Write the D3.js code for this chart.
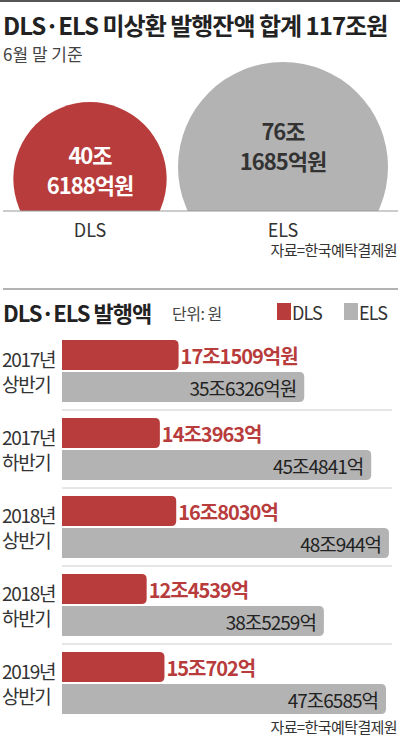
<!DOCTYPE html>
<html><head><meta charset="utf-8">
<script src="https://cdn.jsdelivr.net/npm/d3@7"></script>
<style>body{margin:0;background:#fff}svg{display:block;font-family:"Noto Sans CJK KR","Noto Sans",sans-serif}</style>
</head><body>
<script>
// 미상환 발행잔액 (조원)
var totalNames = ['DLS', 'ELS'];
var totalValues = [40.6188, 76.1685];
var totalLabels = [['40조', '6188억원'], ['76조', '1685억원']];

// 반기별 발행액 (조원)
var periods = [['2017년', '상반기'], ['2017년', '하반기'], ['2018년', '상반기'], ['2018년', '하반기'], ['2019년', '상반기']];
var dlsValues = [17.1509, 14.3963, 16.8030, 12.4539, 15.0702];
var elsValues = [35.6326, 45.4841, 48.0944, 38.5259, 47.6585];
var dlsLabels = ['17조1509억원', '14조3963억', '16조8030억', '12조4539억', '15조702억'];
var elsLabels = ['35조6326억원', '45조4841억', '48조944억', '38조5259억', '47조6585억'];

var RED = '#b83c3c', GRAY = '#b3b3b3', INK = '#222';
var width = 400, height = 738;

var svg = d3.select('body').append('svg')
    .attr('width', width).attr('height', height);

svg.append('rect').attr('x', 0).attr('y', 0).attr('width', width).attr('height', 2).attr('fill', '#555');

svg.append('text').attr('x', 3).attr('y', 35)
    .attr('font-size', 24).attr('font-weight', 'bold').attr('fill', INK)
    .attr('letter-spacing', -1)
    .text('DLS·ELS 미상환 발행잔액 합계 117조원');
svg.append('text').attr('x', 3).attr('y', 61)
    .attr('font-size', 17).attr('fill', '#444').text('6월 말 기준');

// circles, area proportional to value
var base = 211;
var r = d3.scaleSqrt().domain([0, 76.1685]).range([0, 105]);
var cx = [90, 283];
var clip = svg.append('clipPath').attr('id', 'above');
clip.append('rect').attr('x', 0).attr('y', 0).attr('width', width).attr('height', base);

var circ = svg.append('g').attr('clip-path', 'url(#above)');
circ.selectAll('circle').data(totalValues).enter().append('circle')
    .attr('cx', function(d, i) { return cx[i]; })
    .attr('cy', function(d) { return base - 1.42 * r(d) + r(d); })
    .attr('r', function(d) { return r(d); })
    .attr('fill', function(d, i) { return i ? GRAY : RED; });

svg.append('line').attr('x1', 3).attr('x2', 398).attr('y1', base).attr('y2', base)
    .attr('stroke', '#999').attr('stroke-width', 1);

totalLabels.forEach(function(lines, i) {
    var cy = i ? 140 : 164;
    lines.forEach(function(t, j) {
        svg.append('text').attr('x', cx[i]).attr('y', cy + j * 30)
            .attr('text-anchor', 'middle').attr('font-size', 22).attr('font-weight', 'bold')
            .attr('letter-spacing', -1)
            .attr('fill', i ? '#333' : '#fff').text(t);
    });
    svg.append('text').attr('x', cx[i]).attr('y', 237).attr('text-anchor', 'middle')
        .attr('font-size', 18).attr('fill', '#333').text(totalNames[i]);
});
svg.append('text').attr('x', 397).attr('y', 256).attr('text-anchor', 'end')
    .attr('font-size', 15).attr('fill', '#333').attr('letter-spacing', -0.6).text('자료=한국예탁결제원');

svg.append('line').attr('x1', 3).attr('x2', 398).attr('y1', 289).attr('y2', 289)
    .attr('stroke', '#666').attr('stroke-width', 1);

// second section
svg.append('text').attr('x', 3).attr('y', 322)
    .attr('font-size', 22).attr('font-weight', 'bold').attr('fill', INK).attr('letter-spacing', -1)
    .text('DLS·ELS 발행액');
svg.append('text').attr('x', 172).attr('y', 320)
    .attr('font-size', 16).attr('fill', '#444').attr('letter-spacing', -0.5).text('단위: 원');
[[277, RED, 'DLS'], [344, GRAY, 'ELS']].forEach(function(l) {
    svg.append('rect').attr('x', l[0]).attr('y', 303).attr('width', 14).attr('height', 17).attr('fill', l[1]);
    svg.append('text').attr('x', l[0] + 15).attr('y', 320).attr('font-size', 18)
        .attr('fill', '#333').attr('letter-spacing', -0.8).text(l[2]);
});

var x = d3.scaleLinear().domain([0, 47.66]).range([62, 386]);
var y = d3.scaleBand().domain(d3.range(periods.length)).range([340, 730]).paddingInner(0);
var barH = 30;

function barPath(x0, x1, y0, h, rad) {
    return 'M' + x0 + ',' + y0 + 'H' + (x1 - rad) + 'Q' + x1 + ',' + y0 + ' ' + x1 + ',' + (y0 + rad) +
        'V' + (y0 + h - rad) + 'Q' + x1 + ',' + (y0 + h) + ' ' + (x1 - rad) + ',' + (y0 + h) + 'H' + x0 + 'Z';
}

var grp = svg.selectAll('g.period').data(periods).enter().append('g').attr('class', 'period')
    .attr('transform', function(d, i) { return 'translate(0,' + y(i) + ')'; });

grp.filter(function(d, i) { return i > 0; }).append('line')
    .attr('x1', 62).attr('x2', 392).attr('y1', -8).attr('y2', -8)
    .attr('stroke', '#ccc').attr('stroke-width', 1);

grp.append('path').attr('fill', RED)
    .attr('d', function(d, i) { return barPath(x(0), x(dlsValues[i]), 0, barH, 5); });
grp.append('path').attr('fill', GRAY)
    .attr('d', function(d, i) { return barPath(x(0), x(elsValues[i]), barH + 2, barH, 5); });

grp.append('text').attr('x', function(d, i) { return x(dlsValues[i]) + 2; }).attr('y', 24)
    .attr('font-size', 20).attr('font-weight', 'bold').attr('fill', RED).attr('letter-spacing', -1)
    .text(function(d, i) { return dlsLabels[i]; });
grp.append('text').attr('x', function(d, i) { return x(elsValues[i]) - 8; }).attr('y', barH + 26)
    .attr('text-anchor', 'end').attr('font-size', 19).attr('fill', '#222').attr('letter-spacing', -1)
    .text(function(d, i) { return elsLabels[i]; });

grp.each(function(d) {
    var g = d3.select(this);
    d.forEach(function(t, j) {
        g.append('text').attr('x', 2).attr('y', 27 + j * 25).attr('font-size', 19)
            .attr('fill', '#333').attr('letter-spacing', -1.3).text(t);
    });
});

svg.append('text').attr('x', 397).attr('y', 733).attr('text-anchor', 'end')
    .attr('font-size', 15).attr('fill', '#333').attr('letter-spacing', -0.6).text('자료=한국예탁결제원');
</script>
</body></html>
